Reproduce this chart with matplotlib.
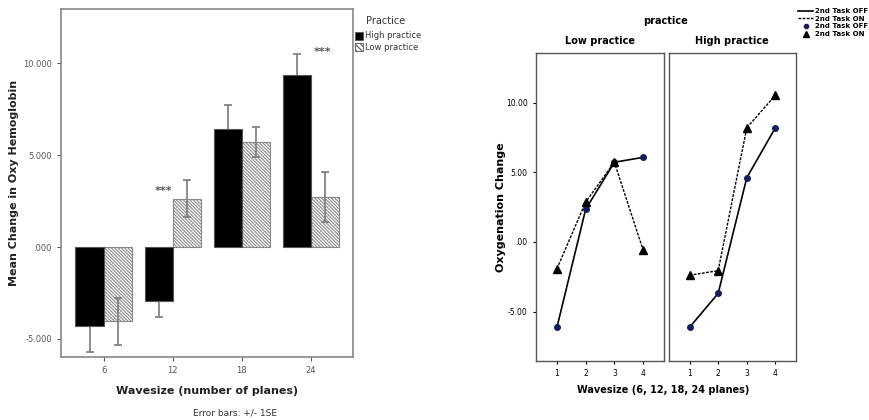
import matplotlib
matplotlib.use("Agg")
import matplotlib.pyplot as plt
import numpy as np
from matplotlib.patches import Rectangle
from matplotlib.lines import Line2D

plt.rcParams['font.family'] = ['DejaVu Sans']
plt.rcParams['hatch.color'] = '#6a6a6a'
plt.rcParams['hatch.linewidth'] = 0.8

# ---- Left chart data ----
wavesizes = ["6", "12", "18", "24"]
high_mean = [-4.29, -2.92, 6.43, 9.35]
high_se = [1.40, 0.88, 1.27, 1.16]
low_mean = [-4.05, 2.63, 5.72, 2.73]
low_se = [1.29, 1.01, 0.83, 1.37]

# ---- Right chart data ----
panel_titles = ["Low practice", "High practice"]
x_levels = [1, 2, 3, 4]
off_vals = {"Low practice": [-6.13, 2.35, 5.73, 6.08],
            "High practice": [-6.13, -3.69, 4.62, 8.21]}
on_vals = {"Low practice": [-1.92, 2.87, 5.73, -0.57],
           "High practice": [-2.39, -2.06, 8.21, 10.54]}

fig = plt.figure(figsize=(8.69, 4.2), dpi=100)

# ================= Left chart =================
ax = fig.add_axes([0.0702, 0.150, 0.336, 0.8286])
x = np.arange(len(wavesizes))
w = 0.41
HATCH = '\\' * 10
ax.bar(x + w / 2, low_mean, width=w, color='white', edgecolor='#888888',
       hatch=HATCH, linewidth=0.8, zorder=2)
ax.errorbar(x + w / 2, low_mean, yerr=low_se, fmt='none', ecolor='#7a7a7a',
            elinewidth=1.2, capsize=3, capthick=1.2, zorder=3)
ax.errorbar(x - w / 2, high_mean, yerr=high_se, fmt='none', ecolor='#7a7a7a',
            elinewidth=1.2, capsize=3, capthick=1.2, zorder=3)
ax.bar(x - w / 2, high_mean, width=w, color='black', edgecolor='#555555',
       linewidth=0.8, zorder=4)
ax.text(x[1] - 0.13, 3.05, "***", ha='center', va='center', fontsize=8,
        color='#555555', fontweight='bold')
ax.text(x[3] + 0.17, 10.6, "***", ha='center', va='center', fontsize=8,
        color='#555555', fontweight='bold')
ax.set_xlim(-0.62, 3.61)
ax.set_ylim(-5.98, 12.94)
ax.set_xticks(x)
ax.set_xticklabels(wavesizes)
ax.set_yticks([-5, 0, 5, 10])
ax.set_yticklabels(["-5.000", ".000", "5.000", "10.000"])
ax.tick_params(labelsize=6, colors='#555555', length=3, width=0.8)
for s in ax.spines.values():
    s.set_color('#888888')
    s.set_linewidth(1.2)
ax.set_ylabel("Mean Change in Oxy Hemoglobin", fontsize=8, fontweight='bold',
              color='#222222', labelpad=3)
ax.set_xlabel("Wavesize (number of planes)", fontsize=8, fontweight='bold',
              color='#222222', labelpad=8)
fig.text(235 / 869, 1 - 413 / 420, "Error bars: +/- 1SE", ha='center',
         va='center', fontsize=6.5, color='#333333')

# legend for left chart
fig.text(386 / 869, 1 - 21 / 420, "Practice", ha='center', va='center',
         fontsize=7, color='#333333')
fig.patches.append(Rectangle((355 / 869, 1 - 40 / 420), 8 / 869, 8 / 420,
                             transform=fig.transFigure, facecolor='black',
                             edgecolor='#555555', lw=0.6))
fig.patches.append(Rectangle((355 / 869, 1 - 51 / 420), 8 / 869, 8 / 420,
                             transform=fig.transFigure, facecolor='white',
                             edgecolor='#555555', hatch='\\' * 6, lw=0.6))
fig.text(365 / 869, 1 - 36 / 420, "High practice", ha='left', va='center',
         fontsize=6, color='#333333')
fig.text(365 / 869, 1 - 47 / 420, "Low practice", ha='left', va='center',
         fontsize=6, color='#333333')

# ================= Right chart =================
positions = [[0.6168, 0.1412, 0.147, 0.7333], [0.7695, 0.1412, 0.1465, 0.7333]]
for i, name in enumerate(panel_titles):
    a = fig.add_axes(positions[i])
    a.plot(x_levels, off_vals[name], color='black', lw=1.2, ls='-', zorder=2)
    a.plot(x_levels, on_vals[name], color='black', lw=1.0, ls=(0, (2, 1)),
           zorder=2)
    a.plot(x_levels, off_vals[name], ls='none', marker='o', ms=4,
           mfc='#1a1a5e', mec='#1a1a5e', zorder=3)
    a.plot(x_levels, on_vals[name], ls='none', marker='^', ms=6,
           mfc='black', mec='black', zorder=3)
    a.set_xlim(0.27, 4.72)
    a.set_ylim(-8.53, 13.6)
    a.set_xticks(x_levels)
    a.set_xticklabels([str(v) for v in x_levels])
    a.set_title(name, fontsize=7, fontweight='bold', pad=6)
    a.tick_params(labelsize=5.5, length=2.5, width=0.8)
    for s in a.spines.values():
        s.set_color('#555555')
        s.set_linewidth(1.0)
    if i == 0:
        a.set_yticks([-5, 0, 5, 10])
        a.set_yticklabels(["-5.00", ".00", "5.00", "10.00"])
        a.set_ylabel("Oxygenation Change", fontsize=8, fontweight='bold',
                     labelpad=0)
    else:
        a.set_yticks([])

fig.text(666 / 869, 1 - 21 / 420, "practice", ha='center', va='center',
         fontsize=7, fontweight='bold')
fig.text(663 / 869, 1 - 390 / 420, "Wavesize (6, 12, 18, 24 planes)",
         ha='center', va='center', fontsize=7, fontweight='bold')

# legend for right chart
handles = [Line2D([], [], color='black', lw=1.2, ls='-'),
           Line2D([], [], color='black', lw=1.0, ls=(0, (2, 1))),
           Line2D([], [], ls='none', marker='o', ms=3, mfc='#1a1a5e', mec='#1a1a5e'),
           Line2D([], [], ls='none', marker='^', ms=4, mfc='black', mec='black')]
labels = ["2nd Task OFF", "2nd Task ON", "2nd Task OFF", "2nd Task ON"]
fig.legend(handles, labels, loc='upper left', bbox_to_anchor=(798 / 869, 1 - 8 / 420),
           frameon=False, handlelength=2.2, handletextpad=0.3,
           labelspacing=0.25, borderaxespad=0, borderpad=0,
           prop={'weight': 'bold', 'size': 5})

fig.savefig("out.png", dpi=100)
